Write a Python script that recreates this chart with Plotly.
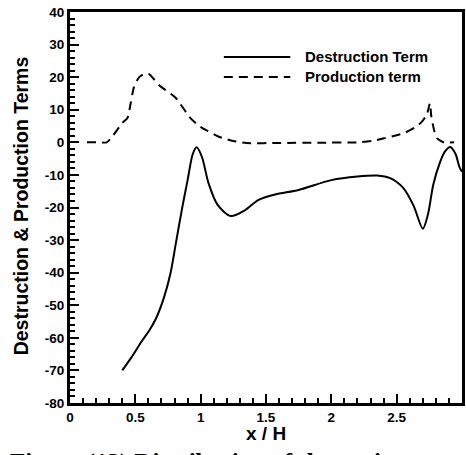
import plotly.graph_objects as go

# Destruction term (solid)
dest_x = [0.40, 0.47, 0.545, 0.61, 0.66, 0.72, 0.77, 0.81, 0.86, 0.90, 0.94, 0.97, 1.01, 1.06, 1.13, 1.23, 1.34, 1.44, 1.57, 1.75, 2.00, 2.20, 2.35, 2.45, 2.55, 2.63, 2.70, 2.74, 2.78, 2.83, 2.87, 2.91, 2.95, 2.98, 3.00]
dest_y = [-70.0, -66.0, -61.3, -57.5, -53.9, -47.5, -40.0, -31.0, -19.8, -11.6, -3.5, -1.5, -4.5, -12.5, -19.2, -22.6, -20.8, -17.7, -16.0, -14.6, -11.6, -10.5, -10.2, -11.0, -14.0, -19.5, -26.5, -22.0, -13.0, -6.3, -2.8, -1.4, -3.5, -7.5, -9.0]

# Production term (dashed)
prod_x = [0.13, 0.20, 0.28, 0.32, 0.40, 0.44, 0.455, 0.49, 0.53, 0.58, 0.61, 0.68, 0.81, 0.92, 0.99, 1.05, 1.14, 1.25, 1.35, 1.60, 1.90, 2.20, 2.32, 2.41, 2.50, 2.56, 2.64, 2.69, 2.73, 2.755, 2.765, 2.79, 2.81, 2.86, 2.94]
prod_y = [0.0, 0.0, 0.0, 1.6, 5.9, 7.5, 10.0, 17.0, 20.0, 21.2, 20.8, 17.6, 13.6, 7.5, 5.0, 3.6, 1.7, 0.4, -0.2, -0.2, -0.1, 0.0, 0.5, 1.3, 2.2, 2.9, 4.6, 6.2, 8.4, 12.0, 8.0, 3.2, 1.2, 0.0, 0.0]

x_ticks = [0, 0.5, 1, 1.5, 2, 2.5, 3]
x_tick_labels = ["0", "0.5", "1", "1.5", "2", "2.5", "3"]
y_ticks = [40, 30, 20, 10, 0, -10, -20, -30, -40, -50, -60, -70, -80]
y_tick_labels = [str(v) for v in y_ticks]

legend_names = ["Destruction Term", "Production term"]

fig = go.Figure()
fig.add_trace(go.Scatter(x=dest_x, y=dest_y, mode="lines", name=legend_names[0],
                         line=dict(color="black", width=2, shape="spline", smoothing=0.8),
                         showlegend=False))
fig.add_trace(go.Scatter(x=prod_x, y=prod_y, mode="lines", name=legend_names[1],
                         line=dict(color="black", width=2, dash="9px,6px", shape="spline", smoothing=0.6),
                         showlegend=False))

W, H = 466, 455
L, R, T, B = 70, 1, 12, 52
pw, ph = W - L - R, H - T - B

def px_x(p):
    return (p - L) / pw

def px_y(p):
    return (H - B - p) / ph

font_bold = dict(family="Liberation Sans, Arial, sans-serif", size=13.5, color="black", weight="bold")

fig.update_layout(
    width=W, height=H,
    margin=dict(l=L, r=R, t=T, b=B, pad=0),
    paper_bgcolor="white", plot_bgcolor="white",
    xaxis=dict(range=[0, 3], tickmode="array", tickvals=x_ticks, ticktext=x_tick_labels,
               ticks="inside", ticklen=9, tickwidth=2, tickcolor="black",
               minor=dict(tickmode="linear", tick0=0, dtick=0.1, ticks="inside", ticklen=5,
                          tickwidth=1.6, tickcolor="black", showgrid=False),
               showline=True, linecolor="black", linewidth=3, mirror=True,
               showgrid=False, zeroline=False, tickfont=font_bold),
    yaxis=dict(range=[-80, 40], tickmode="array", tickvals=y_ticks, ticktext=y_tick_labels,
               ticks="inside", ticklen=9, tickwidth=2, tickcolor="black",
               minor=dict(tickmode="linear", tick0=0, dtick=2, ticks="inside", ticklen=5,
                          tickwidth=1.6, tickcolor="black", showgrid=False),
               showline=True, linecolor="black", linewidth=3, mirror=True,
               showgrid=False, zeroline=False, tickfont=font_bold),
    showlegend=False,
)

# Legend (drawn manually to match original)
leg_rows = [57, 77]
dashes = ["solid", "9px,6px"]
for row, name, d in zip(leg_rows, legend_names, dashes):
    fig.add_shape(type="line", xref="paper", yref="paper",
                  x0=px_x(225), x1=px_x(292), y0=px_y(row), y1=px_y(row),
                  line=dict(color="black", width=2, dash=d))
    fig.add_annotation(xref="paper", yref="paper", x=px_x(305), y=px_y(row),
                       xanchor="left", yanchor="middle", showarrow=False, text=name,
                       font=dict(family="Liberation Sans, Arial, sans-serif", size=15, color="black", weight="bold"))

# Axis titles
fig.add_annotation(xref="paper", yref="paper", x=px_x(21), y=px_y(206), textangle=-90,
                   xanchor="center", yanchor="middle", showarrow=False,
                   text="Destruction & Production Terms",
                   font=dict(family="Liberation Sans, Arial, sans-serif", size=19.5, color="black", weight="bold"))
fig.add_annotation(xref="paper", yref="paper", x=px_x(267), y=px_y(433),
                   xanchor="center", yanchor="middle", showarrow=False,
                   text="x / H",
                   font=dict(family="Liberation Sans, Arial, sans-serif", size=19, color="black", weight="bold"))

# Caption (cut off at the bottom, as in the original)
fig.add_annotation(xref="paper", yref="paper", x=px_x(8), y=px_y(447),
                   xanchor="left", yanchor="top", showarrow=False,
                   text="Figure (13) Distribution of the various terms",
                   font=dict(family="Liberation Serif, Times New Roman, serif", size=25, color="black", weight="bold"))

fig.write_html("out.html")
